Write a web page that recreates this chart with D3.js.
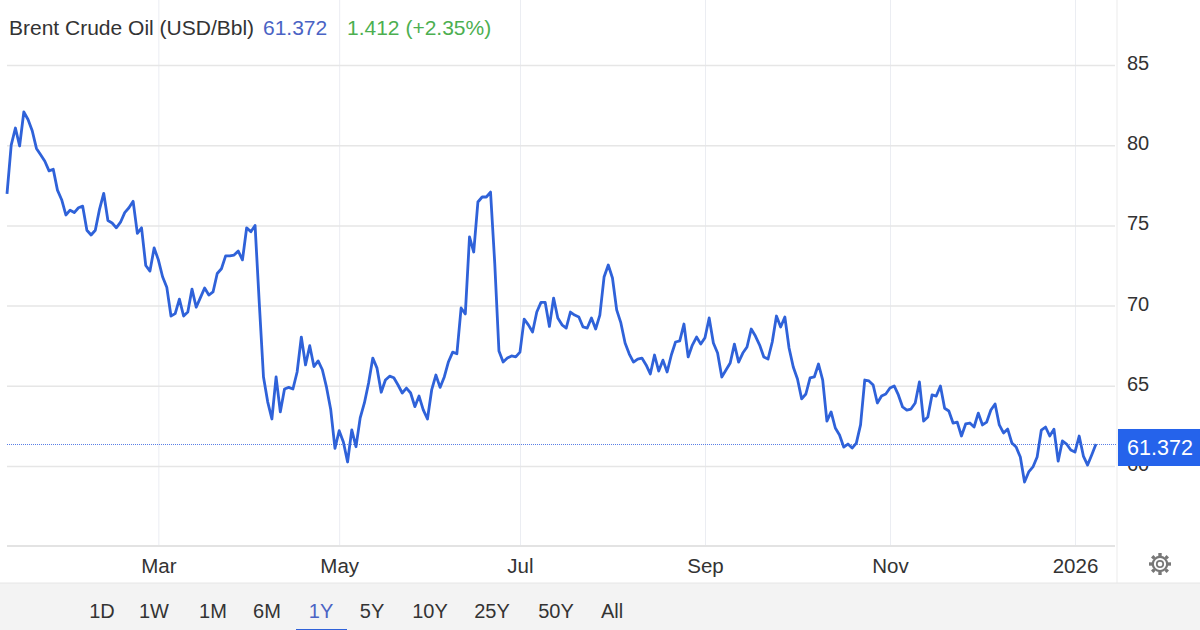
<!DOCTYPE html>
<html>
<head>
<meta charset="utf-8">
<script src="https://cdn.jsdelivr.net/npm/d3@7"></script>
<style>
  html, body { margin: 0; padding: 0; background: #fff; }
  svg { display: block; font-family: "Liberation Sans", Arial, sans-serif; }
</style>
</head>
<body>
<div id="chart"></div>
<script>
// one value per trading session
var prices = [
  76.96, 80.0, 81.07, 79.95, 82.07, 81.6, 80.9, 79.8, 79.4, 79.0,
  78.4, 78.5, 77.2, 76.6, 75.65, 75.95, 75.8, 76.1, 76.2, 74.7,
  74.4, 74.7, 76.0, 77.0, 75.3, 75.15, 74.85, 75.2, 75.8, 76.1,
  76.5, 74.5, 74.85, 72.5, 72.15, 73.6, 72.85, 71.8, 71.15, 69.35,
  69.5, 70.4, 69.35, 69.6, 71.03, 69.9, 70.5, 71.1, 70.66, 70.85,
  72.0, 72.3, 73.1, 73.1, 73.15, 73.4, 72.85, 74.85, 74.6, 75.0,
  70.15, 65.55, 64.0, 62.93, 65.55, 63.37, 64.8, 64.9, 64.8, 65.86,
  68.04, 66.3, 67.5, 66.2, 66.55, 66.0, 64.9, 63.5, 61.1, 62.2,
  61.5, 60.25, 62.25, 61.2, 63.0, 63.93, 65.17, 66.73, 66.1, 64.6,
  65.36, 65.6, 65.5, 65.05, 64.55, 64.86, 64.55, 63.7, 64.36, 63.5,
  62.93, 64.74, 65.67, 64.9, 65.55, 66.5, 67.1, 67.0, 69.85, 69.48,
  74.28, 73.34, 76.46, 76.77, 76.77, 77.08, 72.65, 67.17, 66.48, 66.73,
  66.86, 66.8, 67.1, 69.16, 68.8, 68.35, 69.6, 70.2, 70.2, 68.7,
  70.47, 69.23, 68.8, 68.6, 69.6, 69.41, 69.29, 68.67, 68.6, 69.23,
  68.54, 69.41, 71.78, 72.53, 71.72, 69.73, 68.92, 67.67, 66.98, 66.48,
  66.67, 66.73, 66.3, 65.74, 66.92, 65.92, 66.6, 65.86, 66.92, 67.73,
  67.8, 68.85, 66.8, 67.54, 68.04, 67.6, 68.0, 69.23, 67.67, 67.04,
  65.55, 65.98, 66.42, 67.6, 66.48, 67.04, 67.42, 68.54, 68.1, 67.54,
  66.8, 66.67, 67.73, 69.35, 68.67, 69.29, 67.36, 66.17, 65.42, 64.18,
  64.49, 65.49, 65.55, 66.36, 65.36, 62.8, 63.37, 62.37, 61.93, 61.18,
  61.37, 61.12, 61.43, 62.56, 65.36, 65.3, 65.05, 63.93, 64.36, 64.49,
  64.86, 64.99, 64.43, 63.68, 63.49, 63.55, 63.93, 65.24, 62.8, 63.05,
  64.43, 64.36, 64.99, 63.6, 63.43, 62.68, 62.74, 61.87, 62.62, 62.68,
  62.43, 63.3, 62.56, 62.74, 63.49, 63.87, 62.56, 62.06, 62.3, 61.43,
  61.18, 60.56, 59.0, 59.63, 59.94, 60.56, 62.24, 62.43, 61.87, 62.3,
  60.3, 61.56, 61.37, 61.0, 60.87, 61.87, 60.62, 60.06, 60.7, 61.372
];
var monthLabels = ['Mar', 'May', 'Jul', 'Sep', 'Nov', '2026'];
var monthSessions = [36, 79, 122, 166, 210, 254];
var priceTicks = [60, 65, 70, 75, 80, 85];
var lastPrice = 61.372;
var ranges = ['1D', '1W', '1M', '6M', '1Y', '5Y', '10Y', '25Y', '50Y', 'All'];
var activeRange = '1Y';

var width = 1200, height = 630;
var plotLeft = 7, plotRight = 1117, plotBottom = 546, footerTop = 583;

var x = d3.scaleLinear().domain([0, prices.length - 1]).range([7, 1096]);
var y = d3.scaleLinear().domain([60, 85]).range([466, 65]);

var svg = d3.select('#chart').append('svg')
  .attr('width', width)
  .attr('height', height);

// vertical month grid, behind everything else
var xAxis = d3.axisBottom(x)
  .tickValues(monthSessions)
  .tickSize(-plotBottom)
  .tickFormat(function(d, i) { return monthLabels[i]; });

var xG = svg.append('g')
  .attr('transform', 'translate(0,' + plotBottom + ')')
  .call(xAxis);
xG.select('.domain').remove();
xG.selectAll('line').attr('stroke', '#ebedf2').attr('stroke-width', 1);
xG.selectAll('text')
  .attr('y', 12)
  .attr('dy', '0.71em')
  .attr('fill', '#333')
  .style('font-size', '20.5px');

// horizontal price grid, labels sit right of the axis
var yAxis = d3.axisRight(y)
  .tickValues(priceTicks)
  .tickSize(plotRight - plotLeft - 2)
  .tickFormat(d3.format('d'));

var yG = svg.append('g')
  .attr('transform', 'translate(' + plotLeft + ',0)')
  .call(yAxis);
yG.select('.domain').remove();
yG.selectAll('line').attr('stroke', '#e6e6e6').attr('stroke-width', 1.5);
yG.selectAll('text')
  .attr('x', 1120)
  .attr('y', -2)
  .attr('fill', '#333')
  .style('font-size', '20px');

// baseline and right hand border
svg.append('line')
  .attr('x1', plotLeft).attr('x2', plotRight - 2)
  .attr('y1', plotBottom).attr('y2', plotBottom)
  .attr('stroke', '#e3e3e3').attr('stroke-width', 2);
svg.append('line')
  .attr('x1', plotRight).attr('x2', plotRight)
  .attr('y1', 0).attr('y2', footerTop)
  .attr('stroke', '#ebebeb').attr('stroke-width', 1);

// dotted last price line, snapped so the dots stay blue
var lastY = Math.round(y(lastPrice)) + 0.5;
svg.append('line')
  .attr('x1', plotLeft).attr('x2', plotRight)
  .attr('y1', lastY).attr('y2', lastY)
  .attr('stroke', '#5a7fe6')
  .attr('stroke-width', 1)
  .attr('stroke-dasharray', '1,1');

var line = d3.line()
  .x(function(d, i) { return x(i); })
  .y(function(d) { return y(d); });

svg.append('path')
  .datum(prices)
  .attr('d', line)
  .attr('fill', 'none')
  .attr('stroke', '#2f62d9')
  .attr('stroke-width', 2.8)
  .attr('stroke-linejoin', 'round');

// last price badge covers the top of the 60 label
svg.append('rect')
  .attr('x', 1118).attr('y', y(lastPrice) - 15)
  .attr('width', 82).attr('height', 37)
  .attr('fill', '#2563eb');
svg.append('text')
  .attr('x', 1160).attr('y', y(lastPrice) + 11)
  .attr('text-anchor', 'middle')
  .attr('fill', '#fff')
  .style('font-size', '21.5px')
  .text(d3.format('.3f')(lastPrice));

// header
var header = svg.append('text')
  .attr('x', 9).attr('y', 35)
  .style('font-size', '21px');
header.append('tspan').attr('fill', '#333').text('Brent Crude Oil (USD/Bbl)');
header.append('tspan').attr('x', 263).attr('fill', '#4a63c4').text(lastPrice);
header.append('tspan').attr('x', 347).attr('fill', '#4caf50').text('1.412 (+2.35%)');

// footer with range buttons
svg.append('rect')
  .attr('x', 0).attr('y', footerTop)
  .attr('width', width).attr('height', height - footerTop)
  .attr('fill', '#f3f3f3');
svg.append('line')
  .attr('x1', 0).attr('x2', width)
  .attr('y1', footerTop).attr('y2', footerTop)
  .attr('stroke', '#e6e6e6');

var rangeCenters = [102, 154, 213, 267, 321, 372, 430, 492, 556, 612];

svg.selectAll('.range')
  .data(ranges)
  .enter()
  .append('text')
  .attr('class', 'range')
  .attr('x', function(d, i) { return rangeCenters[i]; })
  .attr('y', 618)
  .attr('text-anchor', 'middle')
  .attr('fill', function(d) { return d === activeRange ? '#4a63c4' : '#333'; })
  .style('font-size', '20px')
  .text(function(d) { return d; });

svg.append('rect')
  .attr('x', 296).attr('y', 629)
  .attr('width', 51).attr('height', 2)
  .attr('fill', '#2f62d9');

// settings gear
var gear = svg.append('g')
  .attr('transform', 'translate(1160,564)')
  .attr('fill', 'none')
  .attr('stroke', '#777');
gear.append('circle').attr('r', 3.2).attr('stroke-width', 1.8);
gear.append('circle').attr('r', 7.2).attr('stroke-width', 2.2);
gear.selectAll('.tooth')
  .data(d3.range(8))
  .enter()
  .append('line')
  .attr('class', 'tooth')
  .attr('y1', -8).attr('y2', -11)
  .attr('stroke-width', 3.4)
  .attr('transform', function(d) { return 'rotate(' + d * 45 + ')'; });
</script>
</body>
</html>
